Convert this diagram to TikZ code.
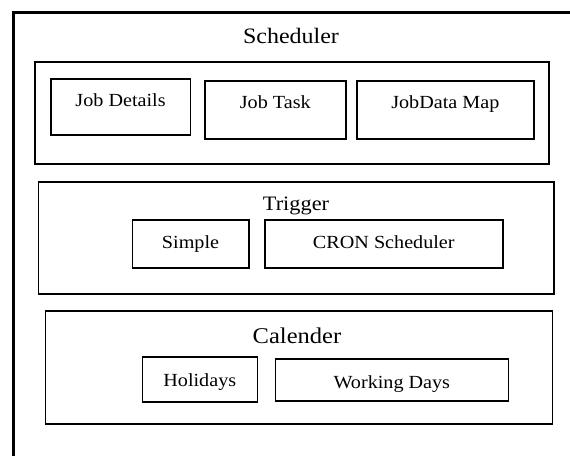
\documentclass[tikz,border=0pt]{standalone}
\usepackage{fontspec}
\setmainfont{Liberation Serif}[FakeStretch=1.09]
\usetikzlibrary{positioning}

\begin{document}
\begin{tikzpicture}[x=1pt,y=-1pt,line width=1.6pt,inner sep=0pt]

  \tikzstyle{group}=[rectangle,draw,anchor=north west]
  \tikzstyle{item}=[rectangle,draw,anchor=north west,
                    font=\fontsize{18.5}{20}\selectfont,text height=12.25pt,text depth=3pt]
  \tikzstyle{title}=[text depth=0pt]

  \useasboundingbox (0,0) rectangle (570,455);
  \clip (0,0) rectangle (570,455);
  \fill[white] (0,0) rectangle (570,455);

  % outer frame, runs off the page at right and bottom
  \node[group,line width=3pt,minimum width=600,minimum height=500] (sched) at (11.5,11) {};
  \node[title,font=\fontsize{22}{26}\selectfont,text height=14.6pt] (schedT) at (291,36.5) {Scheduler};

  % jobs
  \node[group,minimum width=514,minimum height=102] (job) at (34,61) {};
  \node[item,minimum width=139.5,minimum height=56,text depth=12pt] (jd) at (50,78) {Job Details};
  \node[item,minimum width=141,minimum height=58,text depth=14pt] (jt) at (204,80) {Job Task};
  \node[item,minimum width=177,minimum height=58,text depth=14pt] (jdm) at (356,80) {JobData Map};

  % trigger
  \node[group,minimum width=515.5,minimum height=112] (trig) at (37.5,181) {};
  \node[title,font=\fontsize{20.5}{24}\selectfont,text height=13.6pt] (trigT) at (296,203.5) {Trigger};
  \node[item,minimum width=116.5,minimum height=48] (simple) at (131.5,219) {Simple};
  \node[item,minimum width=238,minimum height=48] (cron) at (264,219) {CRON Scheduler};

  % calender
  \node[group,minimum width=507,minimum height=113] (cal) at (44.5,310) {};
  \node[title,font=\fontsize{22.5}{26}\selectfont,text height=14.9pt] (calT) at (297,336.5) {Calender};
  \node[item,minimum width=115,minimum height=45,text height=15.25pt,text depth=0pt] (hol) at (141.5,356) {Holidays};
  \node[item,minimum width=233,minimum height=42,text height=17.25pt,text depth=0pt] (wd) at (274.5,358) {Working Days};

\end{tikzpicture}
\end{document}
